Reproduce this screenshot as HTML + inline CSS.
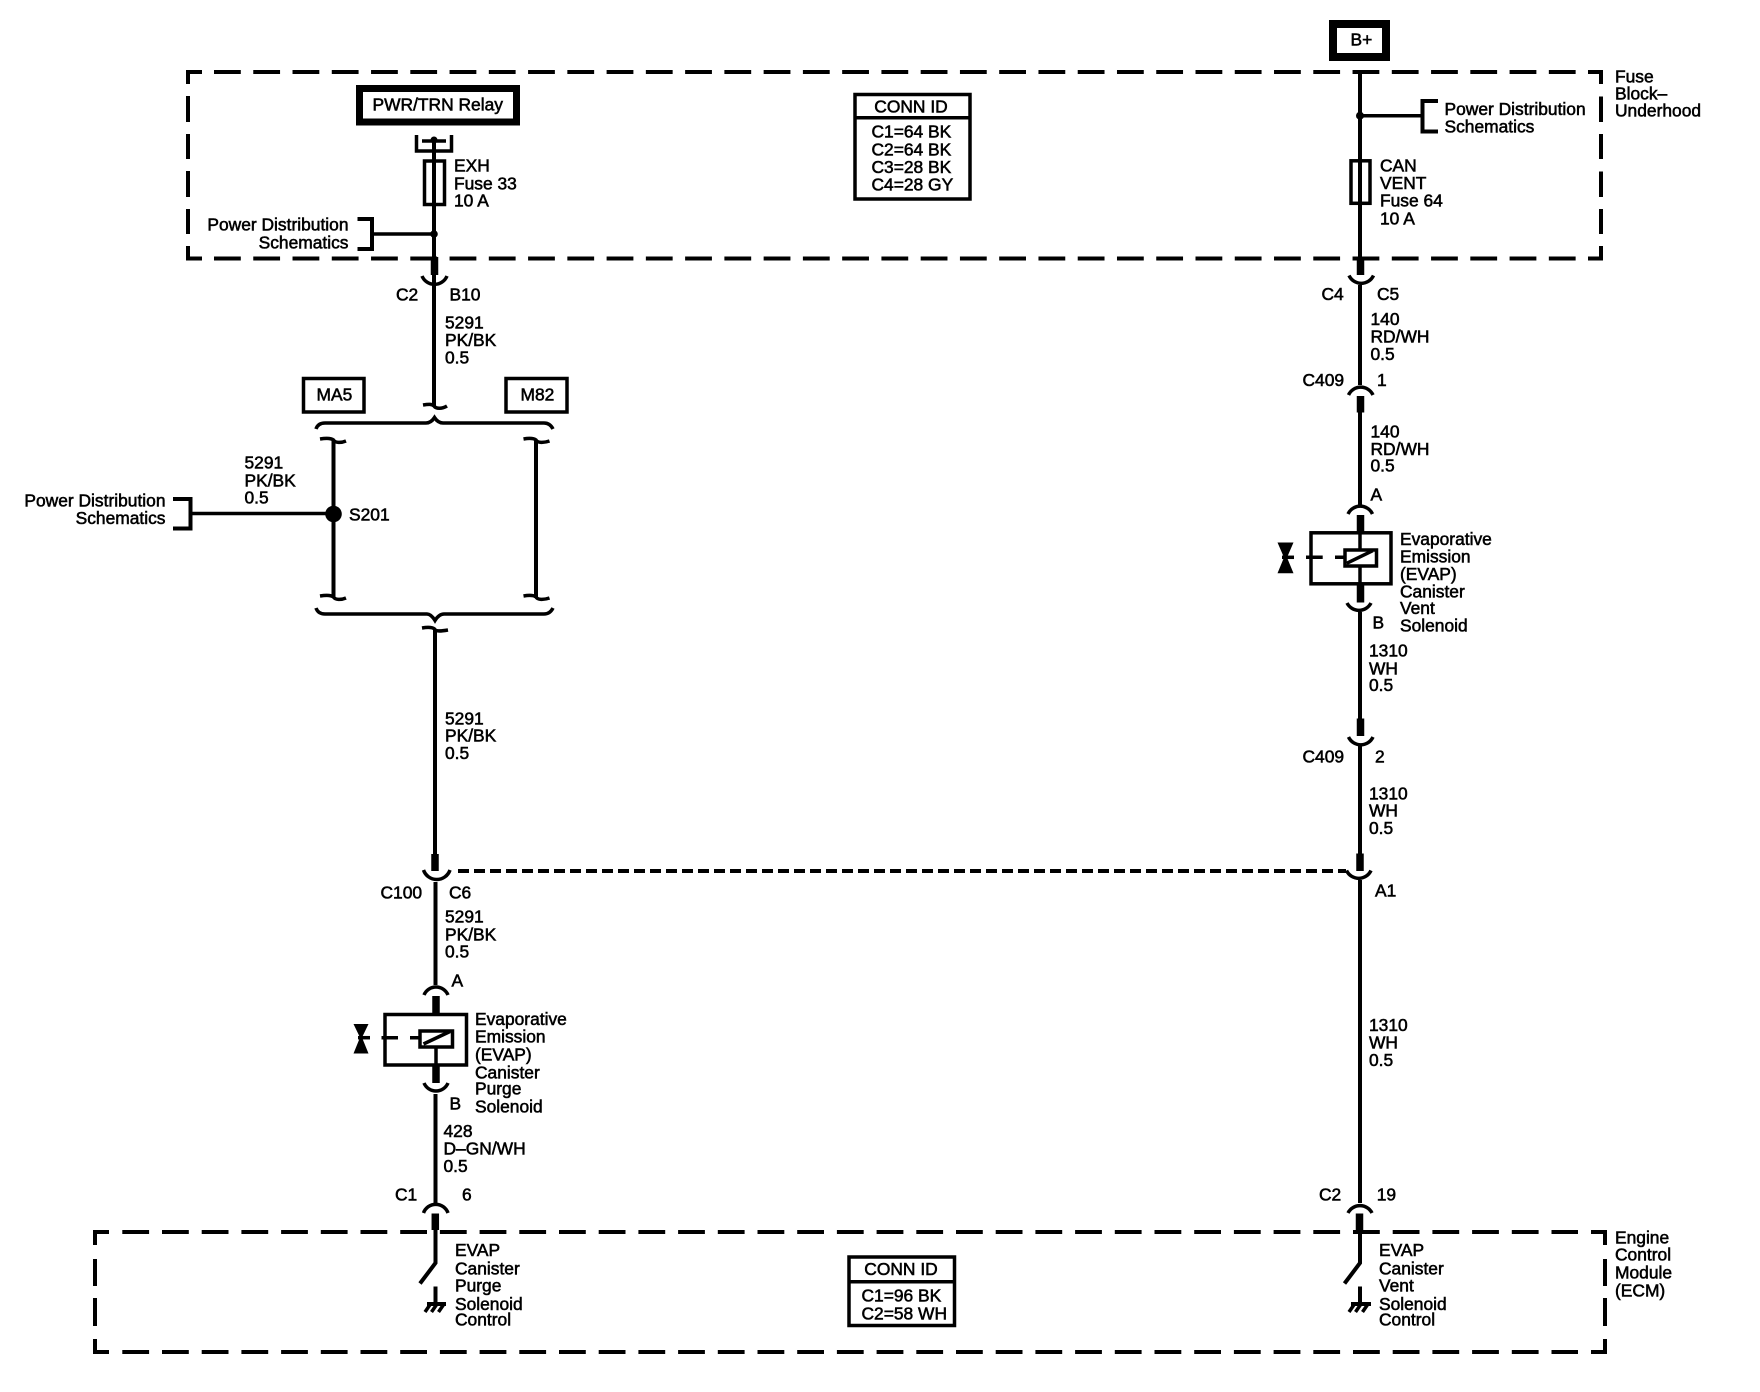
<!DOCTYPE html>
<html>
<head>
<meta charset="utf-8">
<style>
html,body{margin:0;padding:0;background:#fff}
svg{display:block}
text{font-family:"Liberation Sans",Arial,sans-serif;font-size:17.4px;fill:#000;stroke:#000;stroke-width:.55px}
.e{text-anchor:end}
.m{text-anchor:middle}
.w{fill:none;stroke:#000;stroke-width:4}
.t{fill:none;stroke:#000;stroke-width:3.5}
.k{fill:none;stroke:#000;stroke-width:7.5}
</style>
</head>
<body>
<svg width="1760" height="1392" viewBox="0 0 1760 1392" xmlns="http://www.w3.org/2000/svg">
<rect width="1760" height="1392" fill="#fff"/>

<!-- Fuse block dashed box -->
<path class="w" d="M202,72H188V84M188,246V258.5H202M1588,72H1601V84M1601,246V258.5H1588"/>
<path class="w" stroke-dasharray="26.8 12.46" d="M214,72H1576"/>
<path class="w" stroke-dasharray="26.8 12.46" d="M214,258.5H1576"/>
<path class="w" d="M188,96V122M188,134V159M188,171V197M188,209V234M1601,96.500V122M1601,134V159M1601,171.500V197M1601,209V234"/>

<!-- ECM dashed box -->
<path class="w" d="M109,1232H95V1245M95,1339V1352H109M1591,1232H1605V1245M1605,1339V1352H1591"/>
<path class="w" stroke-dasharray="26.8 12.9" d="M122.300,1232H1578"/>
<path class="w" stroke-dasharray="26.8 12.9" d="M122.300,1352H1578"/>
<path class="w" d="M95,1259V1286M95,1298V1326M1605,1259V1286M1605,1298V1326"/>

<!-- PWR/TRN Relay -->
<rect x="359.500" y="88.500" width="157" height="33.500" fill="none" stroke="#000" stroke-width="7"/>
<text x="372.500" y="110.500">PWR/TRN Relay</text>

<!-- B+ -->
<rect x="1333" y="24" width="53" height="33" fill="none" stroke="#000" stroke-width="8"/>
<text x="1350.500" y="45.500">B+</text>

<!-- Left wire top -->
<path class="t" d="M416.500,135V151H451.500V135"/>
<path class="t" d="M422,141H446"/>
<circle cx="434" cy="140" r="3.500"/>
<path class="w" d="M434,140V406"/>
<rect x="424.500" y="161" width="20" height="43.500" fill="none" stroke="#000" stroke-width="3.500"/>
<circle cx="434" cy="234" r="3.800"/>
<path class="t" d="M373,234H434"/>
<path class="w" d="M357.500,219H372V249H357.500"/>
<text x="454" y="171.500">EXH</text>
<text x="454" y="189.300">Fuse 33</text>
<text x="454" y="206.700">10 A</text>
<text class="e" x="348.500" y="230.700">Power Distribution</text>
<text class="e" x="348.500" y="248.300">Schematics</text>
<path class="k" d="M434.500,257V275"/>
<path class="t" d="M422,276A13.5,13.5 0 0 0 447,276"/>
<text x="396" y="300.700">C2</text>
<text x="449.500" y="300.700">B10</text>
<text x="445" y="328.300">5291</text>
<text x="445" y="346">PK/BK</text>
<text x="445" y="363.300">0.5</text>

<!-- MA5 / M82 -->
<rect x="303.500" y="378.500" width="60.500" height="33.500" fill="none" stroke="#000" stroke-width="3.500"/>
<text x="316.500" y="400.700">MA5</text>
<rect x="506" y="378.500" width="61" height="33.500" fill="none" stroke="#000" stroke-width="3.500"/>
<text x="520.500" y="400.700">M82</text>

<!-- Break marks and braces -->
<path class="t" d="M423,405C429,404 432,404 434,406C436,409 442,409 447,406"/>
<path class="t" d="M316,429Q318,423 325,423H426Q431,423 434.500,417.500Q438,423 443,423H544Q550,423 553,429"/>
<path class="t" d="M320,439C326,438 331,438 333.500,440C335,443 341,443 346,441"/>
<path class="t" d="M523.500,439C529.500,438 533.500,438 536,440C537.500,443 543.500,443 549.500,441"/>
<path class="w" d="M333.500,440V598M536,440V598"/>
<path class="t" d="M320,596C326,595 331,595 333.500,597C335,600 341,600 346,598"/>
<path class="t" d="M523.500,596C529.500,595 533.500,595 536,597C537.500,600 543.500,600 549.500,598"/>
<path class="t" d="M316,608Q318,614 325,614H427Q431,614 435,620.500Q439,614 444,614H544Q550,614 553,608"/>
<path class="t" d="M422,628C428,627 432,627 434.500,629C436,632 442,631 448,630"/>

<!-- S201 -->
<circle cx="333.500" cy="514" r="8.300"/>
<path class="t" d="M190,513.500H333"/>
<path class="w" d="M173,499H190.500V528.500H173"/>
<text class="e" x="165.500" y="506.700">Power Distribution</text>
<text class="e" x="165.500" y="524">Schematics</text>
<text x="244.500" y="468.700">5291</text>
<text x="244.500" y="486.700">PK/BK</text>
<text x="244.500" y="503.300">0.5</text>
<text x="349" y="520.700">S201</text>

<!-- Left wire lower -->
<path class="w" d="M435,629V855"/>
<text x="445" y="724.300">5291</text>
<text x="445" y="741.700">PK/BK</text>
<text x="445" y="759">0.5</text>
<path class="k" d="M435,854V871"/>
<path class="t" d="M423.500,870A14,14 0 0 0 450,870"/>
<path class="w" stroke-dasharray="11 5" d="M458,871H1346"/>
<path class="w" d="M435.500,882V985"/>
<text x="380.500" y="898.300">C100</text>
<text x="449" y="898.300">C6</text>
<text x="445" y="922.700">5291</text>
<text x="445" y="940.700">PK/BK</text>
<text x="445" y="957.300">0.5</text>
<text x="451.500" y="986.700">A</text>
<path class="t" d="M424,995A13,13 0 0 1 448,995"/>
<path class="k" d="M436,996V1013"/>

<!-- Purge solenoid -->
<rect x="385" y="1014.500" width="81.500" height="50.500" fill="none" stroke="#000" stroke-width="3.500"/>
<rect x="420" y="1031" width="32.500" height="16" fill="none" stroke="#000" stroke-width="3.500"/>
<path class="t" d="M423.500,1044L450,1031.500"/>
<path class="t" d="M436,1048V1066"/>
<path class="t" d="M381.500,1037.700H398M410,1037.700H419"/>
<path d="M353.500,1024H368.500L362,1037.500L368.500,1053.500H353.500L360,1037.500Z"/>
<path class="t" d="M358,1037.700H370"/>
<text x="475" y="1025">Evaporative</text>
<text x="475" y="1042.700">Emission</text>
<text x="475" y="1060.700">(EVAP)</text>
<text x="475" y="1078.300">Canister</text>
<text x="475" y="1094.300">Purge</text>
<text x="475" y="1112.300">Solenoid</text>
<path class="k" d="M436,1066V1083"/>
<path class="t" d="M424,1083A13,13 0 0 0 448,1083"/>
<path class="w" d="M435.500,1094V1203"/>
<text x="449.500" y="1109.300">B</text>
<text x="443.500" y="1137">428</text>
<text x="443.500" y="1154.500">D&#8211;GN/WH</text>
<text x="443.500" y="1172">0.5</text>
<text x="395" y="1200.700">C1</text>
<text x="462" y="1200.700">6</text>
<path class="t" d="M423.500,1213A13,13 0 0 1 448,1213"/>
<path class="k" d="M435.300,1213.500V1230"/>
<path class="w" d="M435.500,1230V1263L420,1283.500"/>
<path class="w" d="M435.500,1286.500V1304M427,1304H446"/>
<path class="t" stroke-width="2.500" d="M430.500,1304L425,1312M437,1304L431.500,1312M444,1304L438.500,1312"/>
<text x="455" y="1256">EVAP</text>
<text x="455" y="1274.300">Canister</text>
<text x="455" y="1291.700">Purge</text>
<text x="455" y="1310">Solenoid</text>
<text x="455" y="1325.700">Control</text>

<!-- Conn ID boxes -->
<rect x="855" y="94.500" width="115" height="104.500" fill="none" stroke="#000" stroke-width="3.500"/>
<path class="t" d="M855,117.700H970"/>
<text class="m" x="911" y="112.500">CONN ID</text>
<text x="871.500" y="137.500">C1=64 BK</text>
<text x="871.500" y="155.500">C2=64 BK</text>
<text x="871.500" y="173">C3=28 BK</text>
<text x="871.500" y="190.700">C4=28 GY</text>

<rect x="849" y="1257" width="105.500" height="68.500" fill="none" stroke="#000" stroke-width="3.500"/>
<path class="t" d="M849,1281.700H954"/>
<text class="m" x="901" y="1275">CONN ID</text>
<text x="861.500" y="1301.500">C1=96 BK</text>
<text x="861.500" y="1319.300">C2=58 WH</text>

<!-- Right wire -->
<path class="w" d="M1360,72V275"/>
<circle cx="1360" cy="115.700" r="4"/>
<path class="t" d="M1360,115.700H1422"/>
<path class="w" d="M1438,101H1422.500V131.500H1438"/>
<text x="1444.500" y="115">Power Distribution</text>
<text x="1444.500" y="132.300">Schematics</text>
<rect x="1351" y="160.800" width="19" height="42.500" fill="none" stroke="#000" stroke-width="3.500"/>
<text x="1380" y="171.700">CAN</text>
<text x="1380" y="189">VENT</text>
<text x="1380" y="206.700">Fuse 64</text>
<text x="1380" y="224.300">10 A</text>
<text x="1615" y="82.300">Fuse</text>
<text x="1615" y="99.300">Block&#8211;</text>
<text x="1615" y="116.700">Underhood</text>
<path class="k" d="M1360.500,258V275"/>
<path class="t" d="M1349,275.500A13.5,13.5 0 0 0 1373.500,275.500"/>
<path class="w" d="M1360,285V385"/>
<text x="1321.500" y="300">C4</text>
<text x="1377" y="300">C5</text>
<text x="1370.500" y="325">140</text>
<text x="1370.500" y="342.700">RD/WH</text>
<text x="1370.500" y="360">0.5</text>
<text x="1302.500" y="386">C409</text>
<text x="1377" y="386">1</text>
<path class="t" d="M1348.500,395A13.5,13.5 0 0 1 1373,395"/>
<path class="k" d="M1360.500,396V412.500"/>
<path class="w" d="M1360,412V505"/>
<text x="1370.500" y="437.300">140</text>
<text x="1370.500" y="455">RD/WH</text>
<text x="1370.500" y="471.700">0.5</text>
<text x="1370.500" y="500.500">A</text>
<path class="t" d="M1348,514A13.5,13.5 0 0 1 1372.500,514"/>
<path class="k" d="M1360.500,515V532"/>

<!-- Vent solenoid -->
<rect x="1311" y="532.800" width="80" height="51" fill="none" stroke="#000" stroke-width="3.500"/>
<rect x="1345" y="550" width="31.500" height="16" fill="none" stroke="#000" stroke-width="3.500"/>
<path class="t" d="M1346.700,563.300L1372.700,550.700"/>
<path class="t" d="M1360,532V550M1360,566V586"/>
<path class="t" d="M1306,557.300H1322.700M1335,557.300H1344"/>
<path d="M1277.500,542.500H1293.500L1287,557.500L1293.500,573.300H1277.500L1284,557.500Z"/>
<path class="t" d="M1282,557.300H1294"/>
<text x="1400" y="545">Evaporative</text>
<text x="1400" y="562.300">Emission</text>
<text x="1400" y="580">(EVAP)</text>
<text x="1400" y="597.700">Canister</text>
<text x="1400" y="614">Vent</text>
<text x="1400" y="631.700">Solenoid</text>
<path class="k" d="M1360.500,585V602.500"/>
<path class="t" d="M1347,603A13.5,13.5 0 0 0 1371,603"/>
<path class="w" d="M1360,612V720"/>
<text x="1372.500" y="628.300">B</text>
<text x="1369" y="656.700">1310</text>
<text x="1369" y="674.300">WH</text>
<text x="1369" y="691">0.5</text>
<path class="k" d="M1360.500,718.500V736"/>
<path class="t" d="M1348.500,737A13.5,13.5 0 0 0 1373,737"/>
<path class="w" d="M1360,745V855"/>
<text x="1302.500" y="762.700">C409</text>
<text x="1375" y="762.700">2</text>
<text x="1369" y="799.300">1310</text>
<text x="1369" y="816.700">WH</text>
<text x="1369" y="834">0.5</text>
<path class="k" d="M1360,853.500V871"/>
<path class="t" d="M1346.500,870.500A13.5,13.5 0 0 0 1371,870.500"/>
<path class="w" d="M1360,880V1203"/>
<text x="1375" y="896.700">A1</text>
<text x="1369" y="1031">1310</text>
<text x="1369" y="1048.500">WH</text>
<text x="1369" y="1066">0.5</text>
<text x="1319" y="1200.700">C2</text>
<text x="1376.700" y="1200.700">19</text>
<path class="t" d="M1348,1213A13.5,13.5 0 0 1 1372,1213"/>
<path class="k" d="M1359.500,1213.500V1230"/>
<path class="w" d="M1360,1230V1263L1344.500,1283.500"/>
<path class="w" d="M1360,1286.500V1304M1351,1304H1371"/>
<path class="t" stroke-width="2.500" d="M1354.500,1304L1349,1312M1361,1304L1355.500,1312M1368,1304L1362.500,1312"/>
<text x="1379" y="1256">EVAP</text>
<text x="1379" y="1274.300">Canister</text>
<text x="1379" y="1291.700">Vent</text>
<text x="1379" y="1310">Solenoid</text>
<text x="1379" y="1325.700">Control</text>
<text x="1615" y="1243.300">Engine</text>
<text x="1615" y="1260.700">Control</text>
<text x="1615" y="1278.300">Module</text>
<text x="1615" y="1296.700">(ECM)</text>
</svg>
</body>
</html>
